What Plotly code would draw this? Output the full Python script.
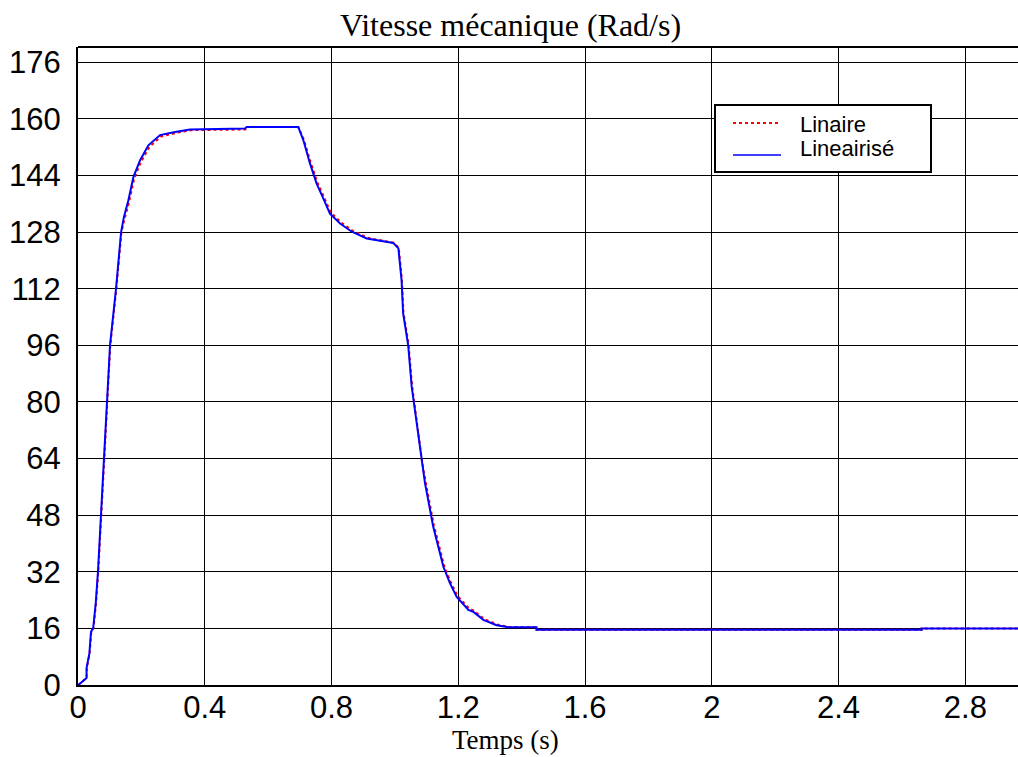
import plotly.graph_objects as go

# ---- data ----
t_lineairise = [0.0, 0.001, 0.027, 0.027, 0.036, 0.041, 0.048, 0.056, 0.063, 0.073, 0.082, 0.091,
                0.101, 0.120, 0.136, 0.145, 0.159, 0.175, 0.196, 0.222, 0.259, 0.306, 0.353,
                0.527, 0.532, 0.695, 0.711, 0.732, 0.753, 0.774, 0.795, 0.827, 0.864, 0.911,
                0.953, 0.995, 1.011, 1.016, 1.021, 1.026, 1.042, 1.053, 1.063, 1.074, 1.085,
                1.095, 1.109, 1.121, 1.137, 1.153, 1.174, 1.195, 1.232, 1.247, 1.279, 1.321,
                1.358, 1.447, 1.447, 2.662, 2.662, 3.0]
y_lineairise = [0.0, 0.0, 2.0, 4.8, 9.0, 15.0, 16.1, 23.2, 32.0, 48.0, 64.0, 80.0,
                96.0, 112.0, 128.0, 132.3, 137.0, 143.6, 148.3, 152.5, 155.4, 156.3, 157.0,
                157.3, 157.7, 157.7, 154.0, 147.4, 141.7, 137.5, 133.2, 130.4, 128.1, 126.2,
                125.5, 124.9, 123.4, 119.1, 114.4, 105.0, 96.0, 84.3, 77.7, 70.1, 62.6,
                57.0, 50.4, 44.7, 39.1, 33.4, 28.7, 24.9, 21.2, 20.7, 18.4, 16.9,
                16.3, 16.3, 15.6, 15.6, 16.0, 16.0]

t_linaire = [0.0, 0.001, 0.027, 0.028, 0.037, 0.042, 0.049, 0.057, 0.064, 0.074, 0.083, 0.092,
             0.102, 0.121, 0.137, 0.147, 0.161, 0.177, 0.198, 0.225, 0.262, 0.309, 0.356,
             0.527, 0.540, 0.695, 0.712, 0.734, 0.755, 0.776, 0.797, 0.829, 0.866, 0.913,
             0.955, 0.996, 1.012, 1.017, 1.022, 1.027, 1.043, 1.054, 1.064, 1.075, 1.086,
             1.097, 1.111, 1.123, 1.139, 1.155, 1.176, 1.197, 1.234, 1.249, 1.281, 1.323,
             1.360, 1.447, 1.447, 2.662, 2.662, 3.0]
y_linaire = [0.0, 0.0, 2.0, 4.8, 9.0, 15.0, 16.1, 23.2, 32.0, 48.0, 64.0, 80.0,
             96.0, 112.0, 128.0, 131.8, 136.4, 143.0, 147.7, 152.0, 155.0, 156.0, 156.8,
             157.0, 157.7, 157.7, 154.3, 147.8, 142.1, 137.9, 133.6, 130.8, 128.4, 126.4,
             125.6, 125.0, 123.6, 119.4, 114.7, 105.3, 96.4, 84.7, 78.1, 70.5, 63.0,
             57.4, 50.8, 45.1, 39.5, 33.8, 29.1, 25.3, 21.6, 21.0, 18.7, 17.1,
             16.4, 16.3, 15.6, 15.6, 16.0, 16.0]

x_tickvals = [0, 0.4, 0.8, 1.2, 1.6, 2.0, 2.4, 2.8]
x_ticktext = ["0", "0.4", "0.8", "1.2", "1.6", "2", "2.4", "2.8"]
y_tickvals = [0, 16, 32, 48, 64, 80, 96, 112, 128, 144, 160, 176]
y_ticktext = [str(v) for v in y_tickvals]

series_names = ["Linaire", "Lineairisé"]
title_text = "Vitesse mécanique (Rad/s)"
xlabel_text = "Temps (s)"

SANS = "Liberation Sans, Arial, sans-serif"
SERIF = "Liberation Serif, Times New Roman, serif"

fig = go.Figure()
fig.add_trace(go.Scatter(x=t_linaire, y=y_linaire, mode="lines", name=series_names[0],
                         line=dict(color="#ff0000", width=2, dash="dot"), showlegend=False))
fig.add_trace(go.Scatter(x=t_lineairise, y=y_lineairise, mode="lines", name=series_names[1],
                         line=dict(color="#0000ff", width=2), showlegend=False))

W, H = 1018, 757
L, R, T, B = 78, 0, 47, 72
pw, ph = W - L - R, H - T - B


def px(xp):
    return (xp - L) / pw


def py(yp):
    return (H - B - yp) / ph


shapes = [
    # top frame line
    dict(type="line", xref="paper", yref="paper", x0=0, x1=1, y0=1, y1=1,
         line=dict(color="black", width=2), layer="above"),
    # legend box
    dict(type="rect", xref="paper", yref="paper", x0=px(715), x1=px(931), y0=py(172), y1=py(105),
         line=dict(color="black", width=2), fillcolor="white", layer="above"),
    dict(type="line", xref="paper", yref="paper", x0=px(733), x1=px(780), y0=py(123), y1=py(123),
         line=dict(color="#ff0000", width=2, dash="dot"), layer="above"),
    dict(type="line", xref="paper", yref="paper", x0=px(733), x1=px(781), y0=py(155), y1=py(155),
         line=dict(color="#0000ff", width=1.5), layer="above"),
]

annotations = [
    dict(text=title_text, xref="paper", yref="paper", x=px(510), y=py(45), xanchor="center",
         yanchor="bottom", showarrow=False, font=dict(family=SERIF, size=32, color="black")),
    dict(text=xlabel_text, xref="paper", yref="paper", x=px(505), y=py(757), xanchor="center",
         yanchor="bottom", showarrow=False, font=dict(family=SERIF, size=27, color="black")),
    dict(text=series_names[0], xref="paper", yref="paper", x=px(798), y=py(124), xanchor="left",
         yanchor="middle", showarrow=False, font=dict(family=SANS, size=22, color="black")),
    dict(text=series_names[1], xref="paper", yref="paper", x=px(798), y=py(149), xanchor="left",
         yanchor="middle", showarrow=False, font=dict(family=SANS, size=22, color="black")),
]

fig.update_layout(
    width=W, height=H,
    margin=dict(l=L, r=R, t=T, b=B, pad=0),
    paper_bgcolor="white", plot_bgcolor="white",
    showlegend=False,
    shapes=shapes, annotations=annotations,
    xaxis=dict(range=[0, (W - L) / 316.9], tickvals=x_tickvals, ticktext=x_ticktext,
               showgrid=True, gridcolor="black", gridwidth=1, zeroline=False,
               showline=True, linecolor="black", linewidth=2, ticks="",
               ticklabelstandoff=-6,
               tickfont=dict(family=SANS, size=31, color="black")),
    yaxis=dict(range=[0, 180.3], tickvals=y_tickvals, ticktext=y_ticktext,
               showgrid=True, gridcolor="black", gridwidth=1, zeroline=False,
               showline=True, linecolor="black", linewidth=2, ticks="",
               ticklabelstandoff=9,
               tickfont=dict(family=SANS, size=31, color="black")),
)

fig.write_html("out.html")
